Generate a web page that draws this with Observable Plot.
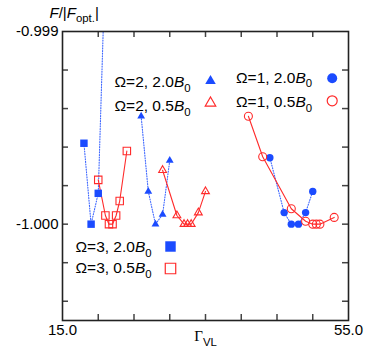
<!DOCTYPE html>
<html><head><meta charset="utf-8">
<script src="https://cdn.jsdelivr.net/npm/d3@7"></script>
<script src="https://cdn.jsdelivr.net/npm/@observablehq/plot@0.6"></script>
<style>body{margin:0;background:#fff} svg{display:block}</style>
</head><body><div id="chart"></div>
<script>
// ---- data ----
const o3_20_x = [18, 19, 20, 21];
const o3_20_y = [-0.99958, -1.0000, -0.99984, -0.99862];
const o3_05_x = [20, 21, 21.5, 22, 22.5, 23, 24];
const o3_05_y = [-0.99977, -0.999955, -1.0000, -1.0000, -0.999955, -0.99988, -0.99962];
const o2_20_x = [26, 27, 28, 29, 30];
const o2_20_y = [-0.99944, -0.99983, -1.0000, -0.99995, -0.99967];
const o2_05_x = [29, 31, 32, 32.5, 33, 34, 35];
const o2_05_y = [-0.99972, -0.999955, -1.0000, -1.0000, -1.0000, -0.99994, -0.99983];
const o1_20_x = [44, 46, 47, 48, 49, 50];
const o1_20_y = [-0.999655, -0.99994, -1.0000, -1.0000, -0.99994, -0.99983];
const o1_05_x = [41, 43, 47, 49, 50, 50.5, 51, 53];
const o1_05_y = [-0.99944, -0.99965, -0.99992, -0.999985, -1.0000, -1.0000, -1.0000, -0.999965];

const seriesNames = ["Ω=3, 2.0*B*_{0}", "Ω=3, 0.5*B*_{0}", "Ω=2, 2.0*B*_{0}", "Ω=2, 0.5*B*_{0}", "Ω=1, 2.0*B*_{0}", "Ω=1, 0.5*B*_{0}"];
const xTickLabels = [15, 55];
const yTickLabels = [-0.999, -1.000];
const xTickMarks = [20, 25, 30, 35, 40, 45, 50];
const yTickMarks = [-0.9992, -0.9994, -0.9996, -0.9998, -1.0000, -1.0002, -1.0004];
const xLabel = "~Γ~_{VL}";
const yLabel = "*F*/|*F*_{opt.}|";

// ---- styles ----
const BLUE = "#1b4bff", RED = "#ff2a2a";
const style = [
  {x: o3_20_x, y: o3_20_y, color: BLUE, filled: true, symbol: "square", r: 4.2, lr: 5.9, tdx: 13, tdy: 215.7, mdx: 108, mdy: 215},
  {x: o3_05_x, y: o3_05_y, color: RED, filled: false, symbol: "square", r: 4.2, lr: 5.9, tdx: 13, tdy: 236.7, mdx: 108, mdy: 237},
  {x: o2_20_x, y: o2_20_y, color: BLUE, filled: true, symbol: "triangle", r: 2.9, lr: 3.9, tdx: 52, tdy: 51, mdx: 148, mdy: 49.5},
  {x: o2_05_x, y: o2_05_y, color: RED, filled: false, symbol: "triangle", r: 2.9, lr: 3.9, tdx: 52, tdy: 75, mdx: 148, mdy: 71.5},
  {x: o1_20_x, y: o1_20_y, color: BLUE, filled: true, symbol: "circle", r: 3.7, lr: 5, tdx: 173.5, tdy: 46.5, mdx: 269.7, mdy: 46.7},
  {x: o1_05_x, y: o1_05_y, color: RED, filled: false, symbol: "circle", r: 4, lr: 5, tdx: 173.5, tdy: 71, mdx: 269.7, mdy: 69.3}
];

const marks = [];
const tickStyle = {stroke: "#444", strokeWidth: 1.5};
marks.push(Plot.tickY(yTickMarks, {y: d => d, insetRight: 280, ...tickStyle}));
marks.push(Plot.tickY(yTickMarks, {y: d => d, insetLeft: 280, ...tickStyle}));
marks.push(Plot.tickX(xTickMarks, {x: d => d, insetBottom: 283, ...tickStyle}));
marks.push(Plot.tickX(xTickMarks, {x: d => d, insetTop: 283, ...tickStyle}));

style.forEach((s, k) => {
  const rows = s.x.map((x, i) => ({x, y: s.y[i]}));
  marks.push(Plot.line(rows, {x: "x", y: "y", stroke: s.color, strokeWidth: s.filled ? 1.1 : 1.1,
    strokeOpacity: s.filled ? 0.85 : 1, strokeDasharray: s.filled ? "1,1.6" : null, clip: true}));
});
style.forEach((s, k) => {
  const rows = s.x.map((x, i) => ({x, y: s.y[i]}));
  marks.push(Plot.dot(rows, {x: "x", y: "y", symbol: s.symbol, r: s.r,
    fill: s.filled ? s.color : "none", stroke: s.filled ? "none" : s.color, strokeWidth: 1.1, clip: true}));
  // legend entry
  marks.push(Plot.text([seriesNames[k]], {text: d => d, frameAnchor: "top-left", textAnchor: "start", lineAnchor: "middle",
    dx: s.tdx, dy: s.tdy, fontSize: 15.5, fill: "#000"}));
  marks.push(Plot.dot([0], {frameAnchor: "top-left", dx: s.mdx, dy: s.mdy, symbol: s.symbol, r: s.lr,
    fill: s.filled ? s.color : "none", stroke: s.filled ? "none" : s.color, strokeWidth: 1.2}));
});

marks.push(Plot.frame({stroke: "#222", strokeWidth: 1.6}));
marks.push(Plot.axisX({ticks: xTickLabels, tickFormat: d => d.toFixed(1), tickSize: 0, tickPadding: 4, fontSize: 15, label: null}));
marks.push(Plot.axisY({ticks: yTickLabels, tickFormat: d => d.toFixed(3), tickSize: 0, tickPadding: 4, fontSize: 15, label: null}));
marks.push(Plot.text([xLabel], {text: d => d, frameAnchor: "bottom", textAnchor: "middle", lineAnchor: "middle", dy: 16, fontSize: 15}));
marks.push(Plot.text([yLabel], {text: d => d, frameAnchor: "top-left", textAnchor: "start", lineAnchor: "middle", dx: -13, dy: -18.5, fontSize: 15}));

const svg = Plot.plot({
  width: 382, height: 356,
  marginLeft: 62, marginRight: 34, marginTop: 31, marginBottom: 36,
  style: {fontFamily: "'Liberation Sans', Arial, sans-serif", fontSize: "15px", background: "#fff", color: "#000"},
  x: {domain: [15, 55], label: null},
  y: {domain: [-1.0005, -0.999], label: null},
  marks
});

// rich text: *italic*, _{subscript}, ~serif~
function richify(root) {
  const base = 15;
  d3.select(root).selectAll("text").each(function () {
    const s = this.textContent;
    if (!/[*~]|_\{/.test(s)) return;
    const el = d3.select(this);
    el.text(null);
    const parts = s.split(/(\*[^*]+\*|_\{[^}]+\}|~[^~]+~)/).filter(p => p);
    let shift = 0;
    for (const p of parts) {
      const ts = el.append("tspan");
      let txt = p, sub = false;
      if (p.startsWith("*")) { txt = p.slice(1, -1); ts.attr("font-style", "italic"); }
      else if (p.startsWith("_{")) { txt = p.slice(2, -1); sub = true; ts.attr("font-size", base * 0.76); }
      else if (p.startsWith("~")) { txt = p.slice(1, -1); ts.attr("font-family", "'Liberation Serif', serif"); }
      const target = sub ? base * 0.3 : 0;
      if (target !== shift) { ts.attr("dy", target - shift); shift = target; }
      ts.text(txt);
    }
  });
}
richify(svg);
document.getElementById("chart").appendChild(svg);
</script>
</body></html>
